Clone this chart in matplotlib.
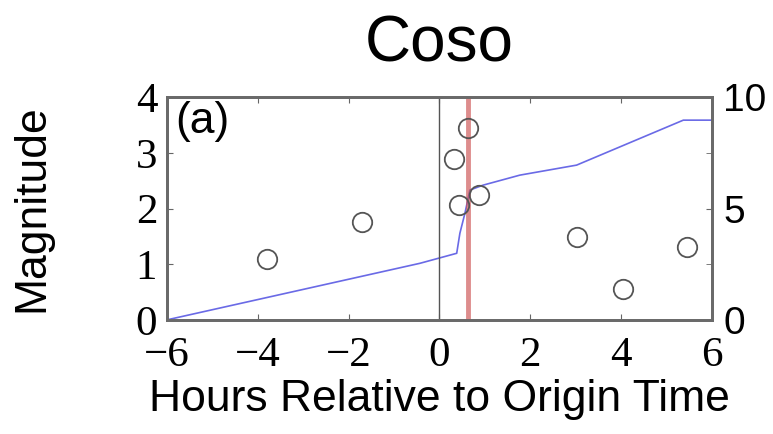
import matplotlib
matplotlib.use('Agg')
import matplotlib.pyplot as plt

# event magnitudes (left axis)
ev_hours = [-3.80, -1.71, 0.32, 0.42, 0.62, 0.86, 3.02, 4.05, 5.45]
ev_mags = [1.10, 1.75, 2.89, 2.06, 3.45, 2.24, 1.49, 0.56, 1.31]

# cumulative count (right axis)
cum_hours = [-6.0, -0.43, 0.38, 0.45, 0.56, 0.67, 0.96, 1.77, 3.02, 5.37, 6.0]
cum_count = [0.0, 2.54, 2.99, 3.89, 4.78, 5.83, 6.05, 6.5, 6.95, 8.97, 8.97]

origin_time = 0.0
main_time = 0.62

serif = ['Liberation Serif', 'DejaVu Serif']
sans = ['Liberation Sans', 'DejaVu Sans']

fig = plt.figure(figsize=(7.73, 4.34), dpi=100)
ax = fig.add_axes([0.216, 0.263, 0.705, 0.513])
ax2 = ax.twinx()

ax2.plot(cum_hours, cum_count, color='#6a6ae6', lw=1.2)
ax.axvline(origin_time, color='#555555', lw=1.0)
ax.axvline(main_time, color='#cc5050', lw=3.5, alpha=0.65)
ax.plot(ev_hours, ev_mags, 'o', mfc='none', mec='#555555', ms=14, mew=1.3, zorder=5)
ax.set_zorder(ax2.get_zorder() + 1)
ax.patch.set_visible(False)

ax.set_xlim(-6, 6)
ax.set_ylim(0, 4)
ax2.set_ylim(0, 10)
ax.set_xticks([-6, -4, -2, 0, 2, 4, 6])
ax.set_xticklabels(['\u22126', '\u22124', '\u22122', '0', '2', '4', '6'])
ax.set_yticks([0, 1, 2, 3, 4])
ax2.set_yticks([0, 5, 10])
ax2.set_yticks([2.5, 7.5], minor=True)

for a in (ax, ax2):
    for s in a.spines.values():
        s.set_color('#6a6a6a')
        s.set_linewidth(2)
ax.tick_params(axis='x', direction='in', length=4, top=True, labelsize=31, pad=12, color='#666666')
ax.tick_params(axis='y', direction='in', length=4, labelsize=31, pad=7, color='#666666')
ax2.tick_params(direction='in', length=4, labelsize=28, pad=8, color='#666666')
ax2.tick_params(which='minor', direction='in', length=4, color='#666666')
for lab in ax.get_xticklabels() + ax.get_yticklabels():
    lab.set_family(serif)
for lab in ax2.get_yticklabels():
    lab.set_family(sans)

ax.text(0.015, 0.985, '(a)', transform=ax.transAxes, ha='left', va='top',
        fontsize=32, family=sans)
ax.set_xlabel('Hours Relative to Origin Time', fontsize=32, family=sans, labelpad=3)
ax.set_ylabel('Magnitude', fontsize=32, family=sans, labelpad=60)
ax.set_title('Coso', fontsize=46, family=sans, pad=26)

fig.savefig('out.png', dpi=100)
